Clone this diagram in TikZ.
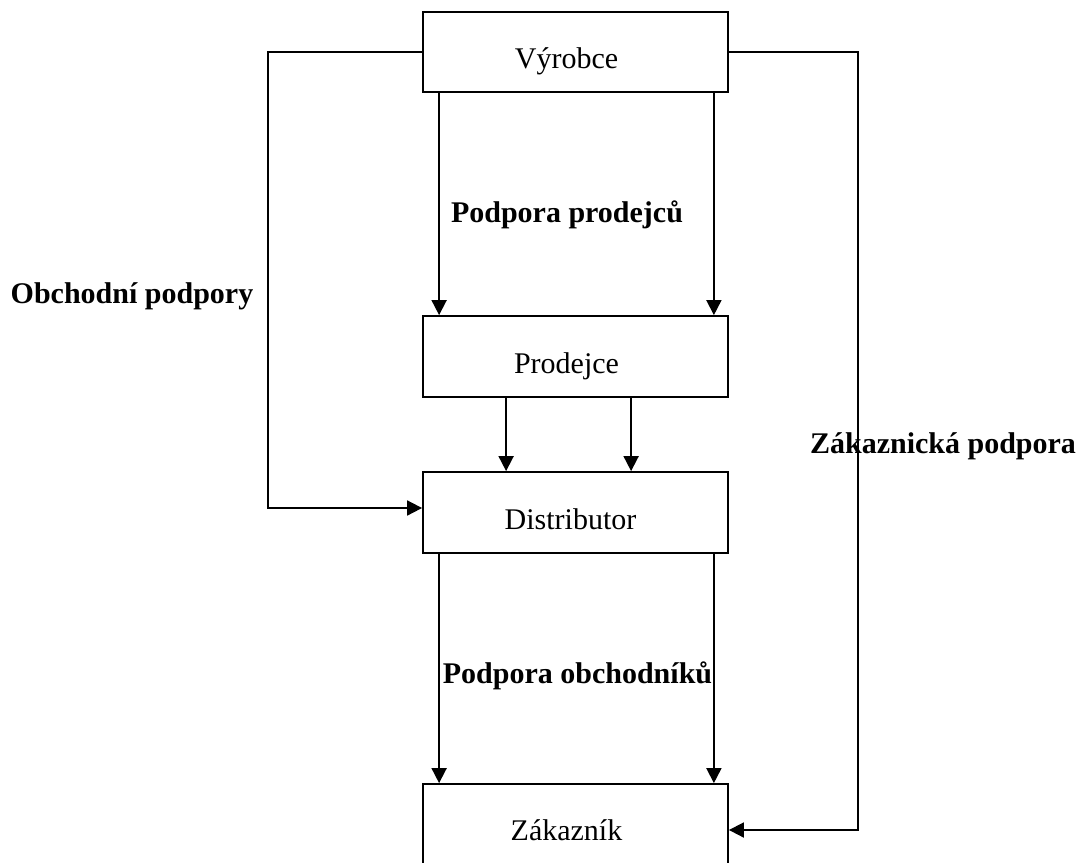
\documentclass[tikz,border=0pt]{standalone}
\usepackage{fontspec}
\setmainfont{Liberation Serif}
\usetikzlibrary{arrows.meta}
\begin{document}
\begin{tikzpicture}[x=1pt,y=-1pt,
  box/.style={draw,line width=1.8pt,minimum width=305pt,minimum height=80pt,inner sep=0pt,
    text height=34pt,text depth=1pt,font=\fontsize{30}{36}\selectfont},
  lbl/.style={anchor=base,inner sep=0pt,font=\fontsize{30}{36}\selectfont\bfseries},
  arr/.style={line width=1.8pt,-{Triangle[length=15pt,width=15pt]}}]
\clip (0,0) rectangle (1083,862);
\fill[white] (0,0) rectangle (1083,862);
\node[box] (v) at (575.5,52) {Výrobce\rule{18pt}{0pt}};
\node[box,minimum height=81pt] (p) at (575.5,356.5) {Prodejce\rule{18pt}{0pt}};
\node[box,minimum height=81pt] (d) at (575.5,512.5) {Distributor\rule{10pt}{0pt}};
\node[box] (z) at (575.5,824) {Zákazník\rule{18pt}{0pt}};
\draw[arr] ([xshift=17pt]v.south west) -- ([xshift=17pt]p.north west);
\draw[arr] ([xshift=-15pt]v.south east) -- ([xshift=-15pt]p.north east);
\draw[arr] ([xshift=84pt]p.south west) -- ([xshift=84pt]d.north west);
\draw[arr] ([xshift=209pt]p.south west) -- ([xshift=209pt]d.north west);
\draw[arr] ([xshift=17pt]d.south west) -- ([xshift=17pt]z.north west);
\draw[arr] ([xshift=-15pt]d.south east) -- ([xshift=-15pt]z.north east);
\draw[arr] (v.west) -- ++(-154pt,0) |- ([yshift=4.5pt]d.west);
\draw[arr] (v.east) -- ++(129pt,0) |- ([yshift=-6pt]z.east);
\node[lbl] (l1) at (567,222) {Podpora prodejců};
\node[lbl] (l2) at (577.5,683) {Podpora obchodníků};
\node[lbl] (l3) at (132,303) {Obchodní podpory};
\node[lbl] (l4) at (943,453) {Zákaznická podpora};
\end{tikzpicture}
\end{document}
